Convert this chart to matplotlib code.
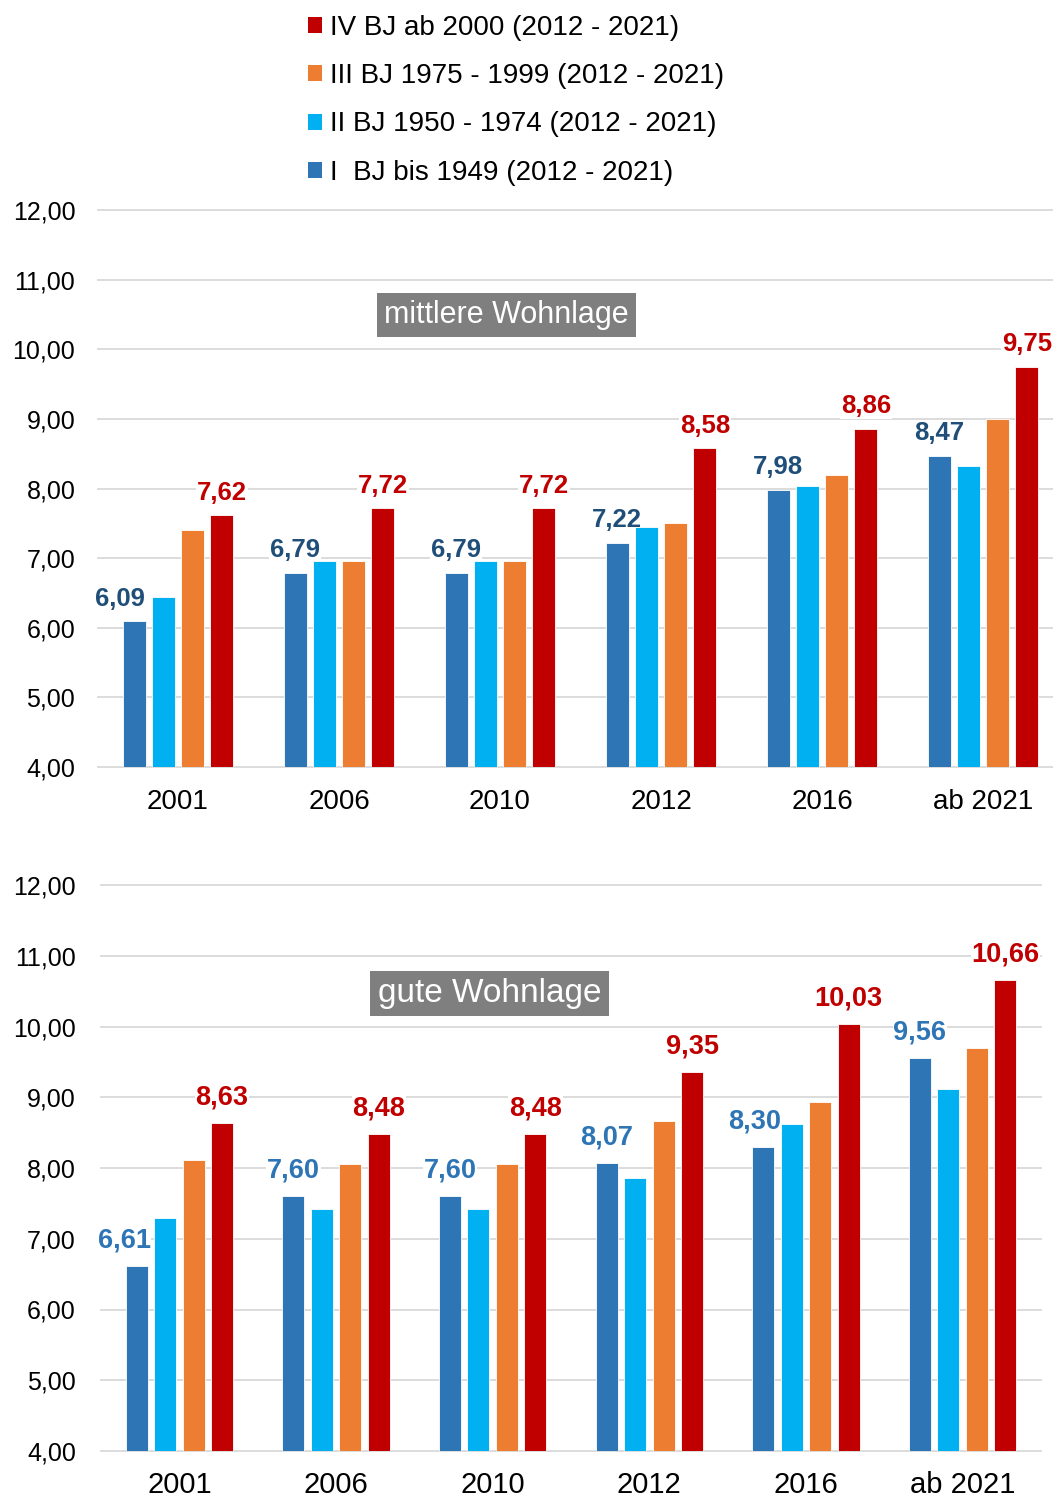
import matplotlib
matplotlib.use("Agg")
import matplotlib.pyplot as plt
from matplotlib.patches import Patch
import numpy as np

plt.rcParams['font.family'] = ['Liberation Sans', 'DejaVu Sans']

years = ["2001", "2006", "2010", "2012", "2016", "ab 2021"]
series_names = ["I  BJ bis 1949 (2012 - 2021)",
                "II BJ 1950 - 1974 (2012 - 2021)",
                "III BJ 1975 - 1999 (2012 - 2021)",
                "IV BJ ab 2000 (2012 - 2021)"]
colors = ["#2E75B6", "#00B0F0", "#ED7D31", "#C00000"]

# mittlere Wohnlage
mid_I = [6.09, 6.79, 6.79, 7.22, 7.98, 8.47]
mid_II = [6.44, 6.96, 6.96, 7.44, 8.03, 8.32]
mid_III = [7.40, 6.96, 6.96, 7.51, 8.19, 9.00]
mid_IV = [7.62, 7.72, 7.72, 8.58, 8.86, 9.75]

# gute Wohnlage
good_I = [6.61, 7.60, 7.60, 8.07, 8.30, 9.56]
good_II = [7.29, 7.42, 7.42, 7.86, 8.62, 9.11]
good_III = [8.12, 8.05, 8.05, 8.67, 8.93, 9.70]
good_IV = [8.63, 8.48, 8.48, 9.35, 10.03, 10.66]

W, H = 1053, 1499


def de(v):
    return f"{v:.2f}".replace(".", ",")


def panel(rect, data, title, title_xy, title_size, blue_lbl, bar_w,
          lbl_size, lbl_off, blue_shift, ypad, xpad, xsize):
    ax = fig.add_axes(rect)
    x = np.arange(len(years))
    step = 0.182
    bars = []
    for i, vals in enumerate(data):
        b = ax.bar(x + (i - 1.5) * step, vals, bar_w, bottom=0,
                   color=colors[i], edgecolor="white", linewidth=0.6, zorder=3)
        bars.append(b)
    ax.set_ylim(4, 12)
    ax.set_xlim(-0.5, len(years) - 0.5)
    ax.set_yticks(np.arange(4, 13, 1))
    ax.set_yticklabels([de(v) for v in np.arange(4, 13, 1)])
    ax.set_xticks(x)
    ax.set_xticklabels(years)
    ax.tick_params(axis="y", length=0, pad=ypad, labelsize=18)
    ax.tick_params(axis="x", length=0, pad=xpad, labelsize=xsize)
    ax.grid(axis="y", color="#D9D9D9", linewidth=1.3, zorder=0)
    for gl in ax.get_ygridlines():
        gl.set_clip_on(False)
    for s in ax.spines.values():
        s.set_visible(False)
    for series, col in [(0, blue_lbl), (3, "#C00000")]:
        for j, rect_ in enumerate(bars[series]):
            dx = blue_shift.get(j, 0) if series == 0 else 0
            ax.annotate(de(data[series][j]),
                        (rect_.get_x() + rect_.get_width() / 2, rect_.get_height()),
                        xytext=(dx, lbl_off), textcoords="offset points",
                        ha="center", va="bottom", fontsize=lbl_size,
                        fontweight="bold", color=col, zorder=2,
                        bbox=dict(facecolor="white", edgecolor="none", pad=0.5))
    fig.text(title_xy[0] / W, 1 - title_xy[1] / H, title, ha="center", va="center",
             fontsize=title_size, color="white",
             bbox=dict(boxstyle="square,pad=0.22", facecolor="#7F7F7F", edgecolor="none"))
    return ax


fig = plt.figure(figsize=(W / 100, H / 100), dpi=100)

panel([97.5 / W, 1 - 767 / H, 966 / W, 557 / H],
      [mid_I, mid_II, mid_III, mid_IV], "mittlere Wohnlage", (506.5, 315), 22,
      "#1F4E79", 0.143, 18.5, 7.5, {0: -10}, 16, 15.5, 20)

panel([101 / W, 1 - 1451 / H, 940 / W, 566 / H],
      [good_I, good_II, good_III, good_IV], "gute Wohnlage", (489.5, 993.5), 24,
      "#2E75B6", 0.14, 19.5, 9, {0: -9, 4: -6}, 18, 14.5, 21)

handles = [Patch(facecolor=colors[i], edgecolor="none") for i in [3, 2, 1, 0]]
labels = [series_names[i] for i in [3, 2, 1, 0]]
fig.legend(handles, labels, loc="upper left", bbox_to_anchor=(308 / W, 1 - 15 / H),
           frameon=False, fontsize=20, handlelength=0.5, handleheight=0.5,
           handletextpad=0.3, labelspacing=0.8, borderpad=0, borderaxespad=0)

fig.savefig("out.png", dpi=100)
